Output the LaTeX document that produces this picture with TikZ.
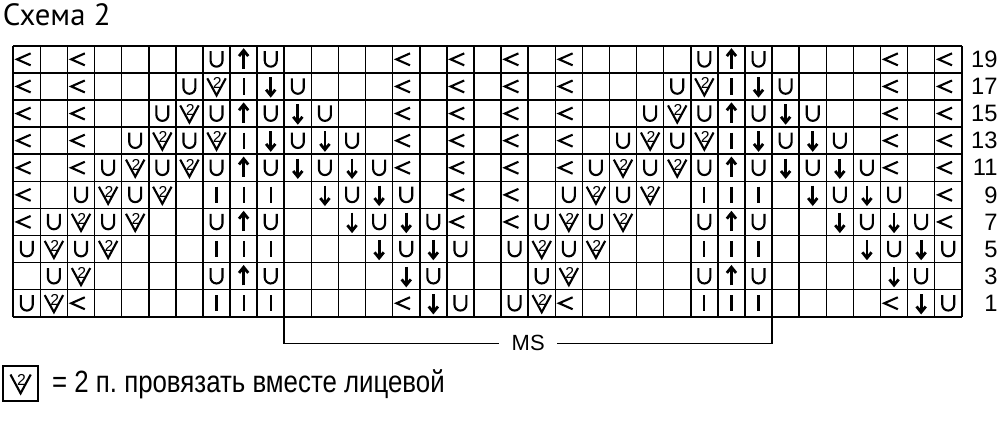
\documentclass[tikz,border=0pt]{standalone}
\usepackage{fontspec}
\setmainfont{Liberation Sans}
\newfontfamily\titlefont{PT Sans}
\newfontfamily\narrowfont[FakeStretch=0.84]{Liberation Sans}
\usetikzlibrary{positioning}
\frenchspacing

\tikzset{
  gridline/.style={line width=0.9pt},
  sym/.style={line width=1.2pt},
  arr/.style={line width=1.6pt, line join=miter},
}

% chart symbols, one cell = 1 unit, drawn round the cell centre
\newcommand{\symL}{\draw[sym] (0.14,0.22)--(-0.36,0)--(0.14,-0.22);}
\newcommand{\symU}{\draw[sym] (-0.22,0.3)--(-0.22,-0.05) arc(180:360:0.22)--(0.22,0.3);}
\newcommand{\symI}{\draw[sym] (0,0.3)--(0,-0.3);}
\newcommand{\symA}{\draw[arr] (0,-0.34)--(0,0.3); \draw[arr] (-0.17,0.12)--(0,0.33)--(0.17,0.12);}
\newcommand{\symD}{\draw[arr] (0,0.34)--(0,-0.3); \draw[arr] (-0.17,-0.12)--(0,-0.33)--(0.17,-0.12);}
\newcommand{\symK}{\draw[sym] (-0.34,0.3)--(0,-0.33)--(0.34,0.3);
  \node[font=\fontsize{9}{9}\selectfont, inner sep=0] (two) at (0.03,0.12) {2};}

\begin{document}
\begin{tikzpicture}[x=0.542cm, y=0.542cm]
\useasboundingbox (-0.49,-4.07) rectangle (36.41,11.69);

\node[font=\titlefont\fontsize{17.5}{17.5}\selectfont, anchor=base west, inner sep=0] (title) at (-0.4,10.76) {Схема 2};

%%%%%%%%%%%%%-------------grid
\foreach \i in {0,...,35}{
\draw[gridline] (\i,0)--(\i,10);}
\foreach \j in {0,...,10}{
\draw[gridline] (0,\j)--(35,\j);}

%%%%%%%%%%%%%-------------rapport (18 sts, shown twice)
\foreach \row/\cells in {
  0/{1/U,2/K,3/L,8/I,9/I,10/I,15/L,16/D,17/U},
  1/{2/U,3/K,8/U,9/A,10/U,15/D,16/U},
  2/{1/U,2/K,3/U,4/K,8/I,9/I,10/I,14/D,15/U,16/D,17/U},
  3/{1/L,2/U,3/K,4/U,5/K,8/U,9/A,10/U,13/D,14/U,15/D,16/U,17/L},
  4/{1/L,3/U,4/K,5/U,6/K,8/I,9/I,10/I,12/D,13/U,14/D,15/U,17/L},
  5/{1/L,3/L,4/U,5/K,6/U,7/K,8/U,9/A,10/U,11/D,12/U,13/D,14/U,15/L,17/L},
  6/{1/L,3/L,5/U,6/K,7/U,8/K,9/I,10/D,11/U,12/D,13/U,15/L,17/L},
  7/{1/L,3/L,6/U,7/K,8/U,9/A,10/U,11/D,12/U,15/L,17/L},
  8/{1/L,3/L,7/U,8/K,9/I,10/D,11/U,15/L,17/L},
  9/{1/L,3/L,8/U,9/A,10/U,15/L,17/L}}{
\foreach \col/\sy in \cells{
\foreach \rep in {0,18}{
\begin{scope}[shift={(\col-0.5+\rep,\row+0.5)}]
\csname sym\sy\endcsname
\end{scope}}}}

%%%%%%%%%%%%%-------------row numbers
\foreach \row [evaluate=\row as \num using int(2*\row+1)] in {0,...,9}{
\node[anchor=east, inner sep=0, font=\fontsize{13.5}{13.5}\selectfont] (num\row) at (36.33,\row+0.5) {\num};}

%%%%%%%%%%%%%-------------MS
\coordinate (msl) at (10,0);
\coordinate (msr) at (28,0);
\node[fill=white, inner xsep=7pt, font=\fontsize{12.5}{12.5}\selectfont] (ms) at (19,-0.98) {MS};
\draw[gridline] (msl) |- (ms);
\draw[gridline] (msr) |- (ms);

%%%%%%%%%%%%%-------------legend
\node[draw, gridline, minimum size=0.7cm, inner sep=0] (key) at (0.27,-2.46) {};
\begin{scope}[shift={(key.center)}, scale=1.1]
\symK
\end{scope}
\node[anchor=base west, inner sep=0, font=\narrowfont\fontsize{17.5}{17.5}\selectfont] (legend) at (1.42,-2.8) {= 2 п. провязать вместе лицевой};

\end{tikzpicture}
\end{document}
